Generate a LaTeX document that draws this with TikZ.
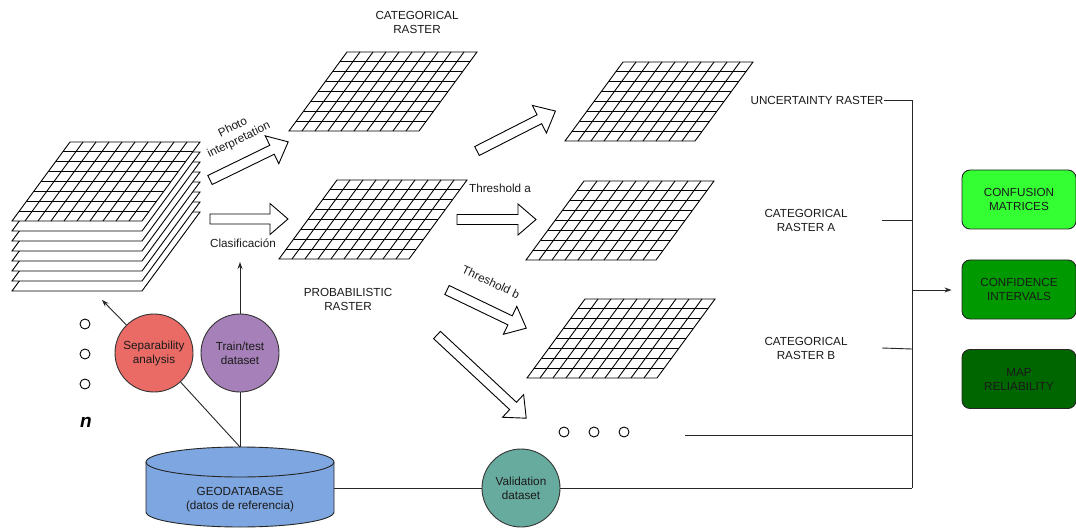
\documentclass[tikz,border=0pt]{standalone}
\usepackage{fontspec}
\setmainfont{Liberation Sans}
\usetikzlibrary{calc,arrows.meta}
\definecolor{sepred}{HTML}{EA6B66}
\definecolor{ttpurple}{HTML}{A680B8}
\definecolor{valteal}{HTML}{67AB9F}
\definecolor{dbblue}{HTML}{7EA6E0}
\definecolor{gA}{HTML}{33FF33}
\definecolor{gB}{HTML}{009900}
\definecolor{gC}{HTML}{006600}
\definecolor{txt}{HTML}{1A1A1A}
\tikzset{
  lbl/.style={font=\fontsize{11.7}{14}\selectfont, align=center, inner sep=0pt, text=txt},
  gridln/.style={line width=0.9pt, draw=black},
  conn/.style={line width=0.9pt, draw=black!85},
  tip/.style={-{Stealth[length=7pt,width=5pt]}},
  raster/.pic={
    \fill[white] (0,0) -- (130,0) -- (72,79) -- (-58,79) -- cycle;
    \foreach \k in {1,...,7} \draw[gridln] ({-58*\k/8},{79*\k/8}) -- ({130-58*\k/8},{79*\k/8});
    \foreach \j in {1,...,9} \draw[gridln] ({13*\j},0) -- ({13*\j-58},79);
    \draw[gridln] (0,0) -- (130,0) -- (72,79) -- (-58,79) -- cycle;
  },
  layer/.pic={
    \draw[gridln, fill=white] (0,0) -- (130,0) -- (72,79) -- (-58,79) -- cycle;
  },
  barrow/.pic={
    \draw[gridln, fill=white] (0,-5) -- ({#1-18},-5) -- ({#1-18},-15.5) -- (#1,0) -- ({#1-18},15.5) -- ({#1-18},5) -- (0,5) -- cycle;
  },
  bubble/.style={circle, draw=black!80, line width=0.9pt, minimum size=78pt, inner sep=0pt, align=center, font=\fontsize{11.7}{14}\selectfont, text=txt},
  resbox/.style={rectangle, rounded corners=8pt, draw=black!85, line width=0.9pt, minimum width=114pt, minimum height=59pt, align=center, font=\fontsize{11.7}{14}\selectfont, text=txt},
  dot/.style={circle, draw=black, line width=0.9pt, minimum size=10pt, inner sep=0pt},
}
\begin{document}
\begin{tikzpicture}[x=1pt,y=-1pt]
\useasboundingbox (0,0) rectangle (1076,529);
% stack of input rasters
\foreach \i in {7,6,...,1} \pic at (70,{142+10*\i}) {layer};
\pic at (70,142) {raster};
% rasters
\pic at (347,52) {raster};
\pic at (337,180) {raster};
\pic at (623,62) {raster};
\pic at (584,181) {raster};
\pic at (585,299) {raster};
% block arrows
\pic[rotate=26] at (210,180) {barrow=87};
\pic at (210,219) {barrow=78};
\pic[rotate=27] at (477,151) {barrow=88};
\pic at (457,219.5) {barrow=79};
\pic[rotate=-25.7] at (447,290) {barrow=88};
\pic[rotate=-43] at (437,335) {barrow=122};
% labels
\node[lbl] (catlbl) at (417,22) {CATEGORICAL\\RASTER};
\node[lbl] (problbl) at (348,299) {PROBABILISTIC\\RASTER};
\node[lbl] (unclbl) at (817,100) {UNCERTAINTY RASTER};
\node[lbl] (catAlbl) at (806,220) {CATEGORICAL\\RASTER A};
\node[lbl] (catBlbl) at (806,348) {CATEGORICAL\\RASTER B};
\node[lbl] (clas) at (243,243) {Clasificación};
\node[lbl] (tha) at (500,188) {Threshold a};
\node[lbl, rotate=-25] (thb) at (491,282) {Threshold b};
\node[lbl, rotate=26] (photo) at (236,134) {Photo\\interpretation};
% dots
\node[dot] (d1) at (85,324) {};
\node[dot] (d2) at (85,354) {};
\node[dot] (d3) at (85,384) {};
\node[font=\fontsize{19}{20}\selectfont\bfseries\itshape, inner sep=0pt] (nlbl) at (86,422) {n};
\node[dot] (e1) at (564,432) {};
\node[dot] (e2) at (594,432) {};
\node[dot] (e3) at (624,432) {};
% database
\draw[line width=0.9pt, draw=black!85, fill=dbblue] (146,462) -- (146,512) arc[start angle=180, end angle=0, x radius=94, y radius=15] -- (334,462) arc[start angle=0, end angle=-180, x radius=94, y radius=15] -- cycle;
\draw[line width=0.9pt, draw=black!85] (146,462) arc[start angle=180, end angle=0, x radius=94, y radius=15];
\node[lbl] (geo) at (240,500) {GEODATABASE\\(datos de referencia)};
\coordinate (dbTop) at (240,447);
\coordinate (dbRight) at (334,488);
% circles
\node[bubble, fill=sepred] (sep) at (154,353) {Separability\\analysis};
\node[bubble, fill=ttpurple] (tt) at (240,353) {Train/test\\dataset};
\node[bubble, fill=valteal] (val) at (521,488) {Validation\\dataset};
% boxes
\node[resbox, fill=gA] (conf) at (1019,199.5) {CONFUSION\\MATRICES};
\node[resbox, fill=gB] (ci) at (1019,289.5) {CONFIDENCE\\INTERVALS};
\node[resbox, fill=gC] (rel) at (1019,379) {MAP\\RELIABILITY};
% connectors
\coordinate (stackPt) at (102,300);
\coordinate (clasPt) at (240,262);
\coordinate (jBot) at (912,488);
\coordinate (jMid) at (912,290);
\coordinate (aStart) at (882,220);
\coordinate (aEnd) at (912,220);
\coordinate (bStart) at (882,348);
\coordinate (bEnd) at (912,349);
\coordinate (eStart) at (685,435);
\coordinate (eEnd) at (912,435);
\draw[conn, tip] (sep) -- (stackPt);
\draw[conn, tip] (tt) -- (clasPt);
\draw[conn] (sep) -- (dbTop);
\draw[conn] (tt) -- (dbTop);
\draw[conn] (dbRight) -- (val);
\draw[conn] (val) -- (jBot);
\draw[conn] (unclbl.east) -| (jBot);
\draw[conn] (aStart) -- (aEnd);
\draw[conn] (bStart) -- (bEnd);
\draw[conn] (eStart) -- (eEnd);
\draw[conn, tip, shorten >=10pt] (jMid) -- (ci.west |- jMid);
\end{tikzpicture}
\end{document}
